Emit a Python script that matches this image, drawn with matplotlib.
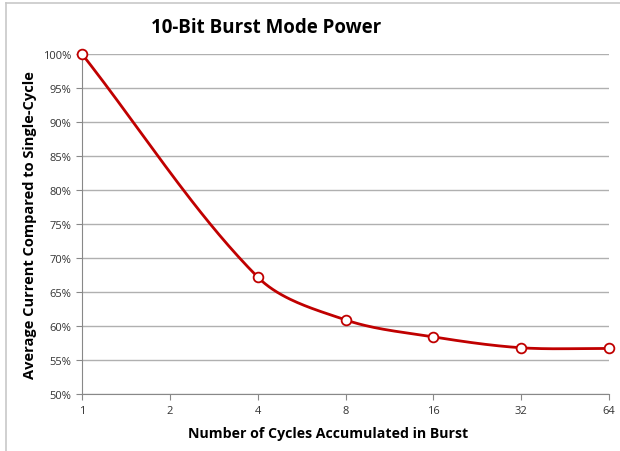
import numpy as np
import matplotlib.pyplot as plt
from matplotlib.lines import Line2D

# data
cycles = [1, 4, 8, 16, 32, 64]
current = [100.0, 67.2, 60.9, 58.4, 56.8, 56.7]
xticks = [1, 2, 4, 8, 16, 32, 64]
yticks = [50, 55, 60, 65, 70, 75, 80, 85, 90, 95, 100]

plt.rcParams['font.family'] = ['Open Sans', 'DejaVu Sans']

fig = plt.figure(figsize=(6.2, 4.52), dpi=100)
ax = fig.add_axes([82 / 620, 1 - 395 / 452, 527 / 620, 340 / 452])
ax.set_xscale('log', base=2)
ax.set_xlim(1, 64)
ax.set_ylim(50, 100)


def smooth(xs, ys, n=40):
    # smoothed line like excel, bezier built in pixel space
    P = ax.transData.transform(np.column_stack([xs, ys]))
    P = np.vstack([P[0], P, P[-1]])
    t = np.linspace(0, 1, n)[:, None]
    out = []
    for i in range(1, len(P) - 2):
        p0, p1, p2, p3 = P[i - 1], P[i], P[i + 1], P[i + 2]
        d0 = np.hypot(*(p1 - p0))
        d1 = np.hypot(*(p2 - p1))
        d2 = np.hypot(*(p3 - p2))
        c1 = p1 + (p2 - p0) * d1 / (d0 + d1) / 3
        c2 = p2 - (p3 - p1) * d1 / (d1 + d2) / 3
        seg = (1 - t) ** 3 * p1 + 3 * (1 - t) ** 2 * t * c1 + 3 * (1 - t) * t ** 2 * c2 + t ** 3 * p2
        out.append(seg)
    s = ax.transData.inverted().transform(np.vstack(out))
    return s[:, 0], s[:, 1]


sx, sy = smooth(cycles, current)
red = '#C00000'
ax.plot(sx, sy, color=red, lw=2, zorder=3)
ax.plot(cycles, current, 'o', ms=7, mfc='white', mec=red, mew=1.3, zorder=4, clip_on=False)

ax.set_xticks(xticks)
ax.set_xticklabels([str(v) for v in xticks])
ax.minorticks_off()
ax.set_yticks(yticks)
ax.set_yticklabels(['%d%%' % v for v in yticks])
ax.yaxis.grid(True, color='#B0B0B0', lw=1)
ax.set_axisbelow(True)
for s in ['top', 'right']:
    ax.spines[s].set_visible(False)
for s in ['left', 'bottom']:
    ax.spines[s].set_color('#888888')
ax.tick_params(axis='both', colors='#888888', labelcolor='#333333', labelsize=8, length=4)
ax.tick_params(axis='x', pad=4)

fig.text(266 / 620, 1 - 28 / 452, '10-Bit Burst Mode Power', ha='center', va='center',
         fontsize=13.5, fontweight='bold')
fig.text(30 / 620, 1 - 225 / 452, 'Average Current Compared to Single-Cycle', rotation=90,
         ha='center', va='center', fontsize=10.5, fontweight='bold')
fig.text(328 / 620, 1 - 434 / 452, 'Number of Cycles Accumulated in Burst', ha='center',
         va='center', fontsize=10.2, fontweight='bold')

# outer frame (top and left edges only visible)
fig.lines.append(Line2D([6 / 620, 1], [1 - 4 / 452, 1 - 4 / 452], transform=fig.transFigure,
                        color='#C8C8C8', lw=1.2))
fig.lines.append(Line2D([6 / 620, 6 / 620], [0, 1 - 4 / 452], transform=fig.transFigure,
                        color='#C8C8C8', lw=1.2))

fig.savefig('out.png', dpi=100)
